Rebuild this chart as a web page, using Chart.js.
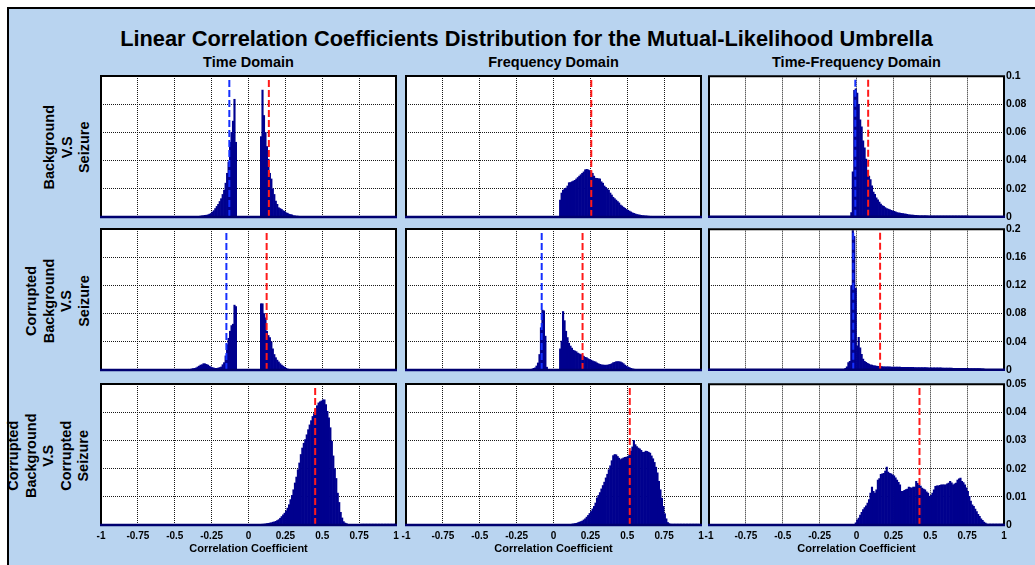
<!DOCTYPE html>
<html>
<head>
<meta charset="utf-8">
<title>Linear Correlation Coefficients Distribution</title>
<script src="https://cdn.jsdelivr.net/npm/chart.js@4/dist/chart.umd.min.js"></script>
<style>
  html, body { margin: 0; padding: 0; background: #fff; }
  #page { position: relative; width: 1035px; height: 565px; overflow: hidden;
          font-family: "Liberation Sans", Arial, sans-serif; font-weight: bold; color: #000; }
  #backdrop { position: absolute; left: 7px; top: 7px; width: 1100px; height: 620px;
              background: #b9d4f0; border-left: 2px solid #000; border-top: 2px solid #000; }
  .txt { position: absolute; white-space: nowrap; text-align: center; line-height: 1; }
  #title { left: 0; width: 1053px; top: 28px; font-size: 21.8px; }
  .coltitle { top: 55px; width: 300px; font-size: 14.5px; }
  .rowlab { width: 200px; font-size: 14.5px; line-height: 17.5px; transform: rotate(-90deg); }
  canvas { position: absolute; }
</style>
</head>
<body>
<div id="page">
  <div id="backdrop"></div>
  <div id="title" class="txt">Linear Correlation Coefficients Distribution for the Mutual-Likelihood Umbrella</div>
</div>
<script>
// ---- labels ----
const domainTitles = ['Time Domain', 'Frequency Domain', 'Time-Frequency Domain'];
const comparisonLabels = [
  ['Background', 'V.S', 'Seizure'],
  ['Corrupted', 'Background', 'V.S', 'Seizure'],
  ['Corrupted', 'Background', 'V.S', 'Corrupted', 'Seizure']
];
const xAxisTitle = 'Correlation Coefficient';

// ---- ticks ----
const xTickValues = [-1, -0.75, -0.5, -0.25, 0, 0.25, 0.5, 0.75, 1];
const xTickLabels = ['-1', '-0.75', '-0.5', '-0.25', '0', '0.25', '0.5', '0.75', '1'];
const yTickValuesRow1 = [0, 0.02, 0.04, 0.06, 0.08, 0.1];
const yTickLabelsRow1 = ['0', '0.02', '0.04', '0.06', '0.08', '0.1'];
const yTickValuesRow2 = [0, 0.04, 0.08, 0.12, 0.16, 0.2];
const yTickLabelsRow2 = ['0', '0.04', '0.08', '0.12', '0.16', '0.2'];
const yTickValuesRow3 = [0, 0.01, 0.02, 0.03, 0.04, 0.05];
const yTickLabelsRow3 = ['0', '0.01', '0.02', '0.03', '0.04', '0.05'];

// ---- histograms: bins of width 0.01, each array starts at the given left bin edge ----
const binWidth = 0.01;

// Background vs Seizure
const timeBgSzStart = -0.33;
const timeBgSz = [0.0007, 0.0008, 0.001, 0.0012, 0.0013, 0.0015, 0.002, 0.0025, 0.0035, 0.0045,
  0.006, 0.0075, 0.009, 0.011, 0.013, 0.016, 0.019, 0.024, 0.031, 0.039,
  0.053, 0.06, 0.068, 0.0835, 0.053,
  0, 0, 0, 0, 0, 0, 0, 0, 0, 0, 0, 0, 0, 0, 0, 0,
  0.057, 0.09, 0.072, 0.06, 0.05, 0.041, 0.031, 0.027, 0.02, 0.016,
  0.0113, 0.009, 0.0066, 0.006, 0.0054, 0.0045, 0.004, 0.003, 0.0027, 0.002,
  0.0018, 0.0015, 0.001, 0.0008, 0.0007, 0.0006, 0.0005, 0.0004];

const freqBgSzStart = 0.04;
const freqBgSz = [0.012, 0.017, 0.019, 0.02, 0.0205, 0.022, 0.0243, 0.0245, 0.025, 0.0255,
  0.026, 0.027, 0.028, 0.029, 0.03, 0.031, 0.032, 0.0335, 0.0338, 0.0335,
  0.033, 0.032, 0.031, 0.029, 0.0275, 0.0274, 0.0272, 0.027, 0.025, 0.024,
  0.022, 0.021, 0.02, 0.019, 0.017, 0.0156, 0.014, 0.013, 0.012, 0.011,
  0.01, 0.0085, 0.0078, 0.0069, 0.0062, 0.0054, 0.0048, 0.0042, 0.0036, 0.003,
  0.0026, 0.0022, 0.0018, 0.0016, 0.0014, 0.0012, 0.001, 0.0009, 0.0008, 0.0007,
  0.0006, 0.0005, 0.0005, 0.0004, 0.0004, 0.0003, 0.0003, 0.0003, 0.0002];

const tfBgSzStart = -0.04;
const tfBgSz = [0.003, 0.032, 0.09, 0.091, 0.088, 0.08, 0.069, 0.064, 0.054, 0.049,
  0.041, 0.033, 0.029, 0.0265, 0.022, 0.0175, 0.016, 0.0135, 0.012, 0.0105,
  0.009, 0.008, 0.0073, 0.0065, 0.0058, 0.0054, 0.005, 0.0045, 0.0042, 0.0038,
  0.0034, 0.003, 0.0028, 0.0026, 0.0024, 0.0022, 0.002, 0.0018, 0.0016, 0.0014,
  0.0013, 0.0012, 0.0011, 0.001, 0.0009, 0.0008,
  0.0007, 0.0007, 0.0007, 0.0006, 0.0006, 0.0006, 0.0005, 0.0005, 0.0005,
  0.0004, 0.0004, 0.0004, 0.0004, 0.0004, 0.0004, 0.0004, 0.0004, 0.0004, 0.0004,
  0.0003, 0.0003, 0.0003, 0.0003, 0.0003, 0.0003, 0.0003, 0.0003, 0.0003, 0.0003,
  0.0003, 0.0003, 0.0003, 0.0003, 0.0003];

// Corrupted Background vs Seizure
const timeCbSzStart = -0.42;
const timeCbSz = [0.0005, 0.001, 0.001, 0.0015, 0.002, 0.0024, 0.003, 0.0043, 0.0055, 0.007,
  0.0075, 0.009, 0.0088, 0.008, 0.007, 0.0055, 0.0043, 0.0035, 0.0028, 0.0024,
  0.0024, 0.0028, 0.0035, 0.0043, 0.0075, 0.0104, 0.02, 0.036, 0.045, 0.055,
  0.063, 0.065, 0.092, 0.09,
  0, 0, 0, 0, 0, 0, 0, 0, 0, 0, 0, 0, 0, 0, 0, 0,
  0.094, 0.094, 0.08, 0.074, 0.055, 0.049, 0.046, 0.04, 0.03, 0.022,
  0.0175, 0.014, 0.0115, 0.009, 0.007, 0.0055, 0.004, 0.0025, 0.0015, 0.001, 0.0005];

const freqCbSzStart = -0.15;
const freqCbSz = [0.0012, 0.0024, 0.003, 0.0057, 0.01, 0.022, 0.06, 0.085, 0.084, 0.048, 0.004,
  0, 0, 0, 0, 0, 0, 0, 0,
  0.03, 0.041, 0.083, 0.07, 0.055, 0.046, 0.038, 0.034, 0.031, 0.028,
  0.027, 0.026, 0.024, 0.023, 0.022, 0.021, 0.0195, 0.018, 0.0175, 0.016,
  0.015, 0.014, 0.013, 0.012, 0.0115, 0.01, 0.009, 0.008, 0.0075, 0.007,
  0.007, 0.0068, 0.007, 0.0075, 0.008, 0.009, 0.0104, 0.011, 0.0118, 0.012,
  0.0118, 0.0115, 0.0104, 0.009, 0.007, 0.0055, 0.0043, 0.0035, 0.0024, 0.0018,
  0.0012, 0.001, 0.0008, 0.0005];

const tfCbSzStart = -0.08;
const tfCbSz = [0.002, 0.004, 0.01, 0.012, 0.12, 0.198, 0.19, 0.116, 0.034, 0.046,
  0.031, 0.022, 0.015, 0.012, 0.0104, 0.009, 0.008, 0.007, 0.0065, 0.006,
  0.0055, 0.005, 0.0047, 0.0045, 0.0044, 0.0043, 0.0042, 0.0041,
  0.004, 0.004, 0.004, 0.0039, 0.0039, 0.0039, 0.0038, 0.0038, 0.0038, 0.0037,
  0.0035, 0.0035, 0.0034, 0.0034, 0.0033, 0.0033, 0.0033, 0.0032, 0.0032, 0.0031,
  0.0031, 0.003, 0.003, 0.003, 0.003, 0.0029, 0.0029, 0.0029, 0.0028, 0.0028,
  0.0028, 0.0027, 0.0027,
  0.0026, 0.0026, 0.0025, 0.0025, 0.0025, 0.0024, 0.0024, 0.0024,
  0.0023, 0.0022, 0.0022, 0.0022, 0.0021, 0.0021, 0.0021, 0.002, 0.002, 0.002,
  0.002, 0.0019, 0.0019, 0.0019, 0.0019,
  0.0017, 0.0017, 0.0016, 0.0016, 0.0016, 0.0015, 0.0015, 0.0015, 0.0014, 0.0014,
  0.0005];

// Corrupted Background vs Corrupted Seizure
const timeCbCsStart = 0.09;
const timeCbCs = [0.0003, 0.0003, 0.0004, 0.0005, 0.0006, 0.0007, 0.0008, 0.001, 0.0011, 0.0013,
  0.0016, 0.0019, 0.0024, 0.003, 0.0036, 0.0042, 0.005, 0.006, 0.0072, 0.009,
  0.0105, 0.0125, 0.0149, 0.017, 0.0196, 0.022, 0.025, 0.0273, 0.029, 0.0303,
  0.032, 0.0338, 0.0355, 0.037, 0.0385, 0.0395, 0.041, 0.0423, 0.0433, 0.0437,
  0.044, 0.0444, 0.0444, 0.0427, 0.0403, 0.038, 0.0345, 0.0297, 0.0245, 0.02,
  0.0165, 0.0113, 0.008, 0.0045, 0.0025, 0.0012, 0.0007, 0.0005,
  0.0001, 0.0001, 0.0001, 0.0001, 0.0001, 0.0001, 0.0001, 0.0001, 0.0001,
  0.0003, 0.0003, 0.0003, 0.0003, 0.0003, 0.0003, 0.0003, 0.0003, 0.0003, 0.0003,
  0.0003, 0.0003, 0.0003, 0.0003, 0.0003, 0.0003, 0.0003, 0.0003, 0.0003, 0.0003,
  0.0003, 0.0003, 0.0003, 0.0003];

const freqCbCsStart = 0.11;
const freqCbCs = [0.0002, 0.0003, 0.0004, 0.0005, 0.0006, 0.0008, 0.001, 0.0012, 0.0014, 0.0018,
  0.0022, 0.0028, 0.0034, 0.0041, 0.0048, 0.0057, 0.0066, 0.0078, 0.0096, 0.0105,
  0.0115, 0.0128, 0.014, 0.0152, 0.0167, 0.018, 0.0196, 0.021, 0.0228, 0.0246,
  0.025, 0.0249, 0.0243, 0.0237, 0.0232, 0.0235, 0.0238, 0.024, 0.0241, 0.0243,
  0.025, 0.0262, 0.0277, 0.03, 0.0285, 0.0278, 0.0273, 0.027, 0.0265, 0.0258,
  0.0258, 0.0262, 0.0261, 0.0258, 0.0255, 0.0245, 0.0235, 0.0222, 0.0205, 0.0185,
  0.0155, 0.0125, 0.0095, 0.0066, 0.004, 0.0022, 0.0009, 0.0005,
  0.0003, 0.0003, 0.0003, 0.0003, 0.0003, 0.0003, 0.0003, 0.0003, 0.0003, 0.0003,
  0.0003, 0.0003, 0.0003, 0.0003, 0.0003, 0.0003, 0.0003, 0.0003, 0.0003, 0.0003];

const tfCbCsStart = -0.01;
const tfCbCs = [0.0008, 0.0018, 0.0025, 0.0035, 0.0045, 0.0055, 0.0062, 0.0068, 0.0078, 0.009,
  0.0113, 0.0135, 0.012, 0.0113, 0.0125, 0.016, 0.0165, 0.018, 0.0182, 0.0184,
  0.0192, 0.0206, 0.0188, 0.0184, 0.0182, 0.0178, 0.0175, 0.0168, 0.016, 0.0152,
  0.0143, 0.012, 0.012, 0.0123, 0.0126, 0.0128, 0.0135, 0.0133, 0.0131, 0.0135,
  0.0135, 0.0155, 0.0148, 0.0143, 0.0138, 0.0131, 0.0128, 0.0125, 0.0118, 0.0113,
  0.0102, 0.0105, 0.0113, 0.0125, 0.0137, 0.0139, 0.0139, 0.0141, 0.0143, 0.0143,
  0.0143, 0.0143, 0.0146, 0.0149, 0.0155, 0.015, 0.0143, 0.0146, 0.0149, 0.016,
  0.0164, 0.0167, 0.0155, 0.0151, 0.0143, 0.0132, 0.012, 0.0102, 0.0085, 0.0072,
  0.0066, 0.0057, 0.0048, 0.0038, 0.0031, 0.0022, 0.0017, 0.001, 0.0007,
  0.0003, 0.0003, 0.0003, 0.0003, 0.0003, 0.0003, 0.0003, 0.0003, 0.0003, 0.0003,
  0.0003, 0.0003];

// mean correlation markers (blue dashed / red dashed), null where not drawn
const blueMeans = [[-0.13, null, -0.008], [-0.15, -0.08, -0.022], [null, null, null]];
const redMeans = [[0.138, 0.256, 0.079], [0.123, 0.197, 0.16], [0.452, 0.517, 0.427]];

// ---- panel grid ----
const histStarts = [
  [timeBgSzStart, freqBgSzStart, tfBgSzStart],
  [timeCbSzStart, freqCbSzStart, tfCbSzStart],
  [timeCbCsStart, freqCbCsStart, tfCbCsStart]
];
const histValues = [
  [timeBgSz, freqBgSz, tfBgSz],
  [timeCbSz, freqCbSz, tfCbSz],
  [timeCbCs, freqCbCs, tfCbCs]
];
const yTickValues = [yTickValuesRow1, yTickValuesRow2, yTickValuesRow3];
const yTickLabels = [yTickLabelsRow1, yTickLabelsRow2, yTickLabelsRow3];

// ---- geometry ----
const colLeft = [101, 406, 709];
const rowTop = [76, 229, 384];
const plotW = 295, plotH = 141;
const FONT = '"Liberation Sans", Arial, sans-serif';
const BAR_COLOR = '#00008e';
const GRID_COLOR = 'rgba(0,0,0,0.9)';

const page = document.getElementById('page');

// column headings
domainTitles.forEach((t, c) => {
  const d = document.createElement('div');
  d.className = 'txt coltitle';
  d.textContent = t;
  d.style.left = (colLeft[c] + plotW / 2 - 150) + 'px';
  page.appendChild(d);
});

// rotated row headings
comparisonLabels.forEach((lines, r) => {
  const d = document.createElement('div');
  d.className = 'txt rowlab';
  d.innerHTML = lines.join('<br>');
  const lh = 17.5, h = lines.length * lh;
  const cx = 92.75 - h / 2;
  const cy = rowTop[r] + plotH / 2 + 1;
  d.style.height = h + 'px';
  d.style.left = (cx - 100) + 'px';
  d.style.top = (cy - h / 2) + 'px';
  page.appendChild(d);
});

// white plot background + box frame
const framePlugin = {
  id: 'frame',
  beforeDraw(chart) {
    const { ctx, chartArea: a } = chart;
    ctx.save();
    ctx.fillStyle = '#fff';
    ctx.fillRect(a.left, a.top, a.right - a.left, a.bottom - a.top);
    ctx.restore();
  },
  afterDraw(chart) {
    const { ctx, chartArea: a } = chart;
    ctx.save();
    ctx.lineWidth = 2;
    ctx.strokeStyle = '#000';
    ctx.beginPath();
    ctx.moveTo(a.left, a.bottom);
    ctx.lineTo(a.left, a.top);
    ctx.lineTo(a.right, a.top);
    ctx.lineTo(a.right, a.bottom);
    ctx.stroke();
    ctx.strokeStyle = '#000070';
    ctx.lineWidth = 2.5;
    ctx.beginPath();
    ctx.moveTo(a.left - 1, a.bottom);
    ctx.lineTo(a.right + 1, a.bottom);
    ctx.stroke();
    ctx.restore();
  }
};

function meanLine(x, ymax, color) {
  return {
    type: 'line',
    data: [{ x: x, y: 0 }, { x: x, y: ymax }],
    borderColor: color,
    borderWidth: 2,
    borderDash: [7, 3],
    pointRadius: 0,
    order: 1
  };
}

function makePanel(r, c) {
  const ticksY = yTickValues[r];
  const labelsY = yTickLabels[r];
  const ymax = ticksY[ticksY.length - 1];
  const padL = 15, padT = 8;
  const padR = c === 2 ? 42 : 15;
  const padB = r === 2 ? 36 : 8;
  const yAxisW = c === 2 ? 34 : 0;
  const xAxisH = r === 2 ? 31 : 0;
  const w = plotW + padL + padR, h = plotH + padT + padB;

  const cv = document.createElement('canvas');
  cv.width = w; cv.height = h;
  cv.style.width = w + 'px'; cv.style.height = h + 'px';
  cv.style.left = (colLeft[c] - padL) + 'px';
  cv.style.top = (rowTop[r] - padT) + 'px';
  page.appendChild(cv);

  const start = histStarts[r][c];
  const bars = histValues[r][c].map((v, i) => ({ x: start + binWidth * (i + 0.5), y: v }));
  const datasets = [{
    type: 'bar', data: bars, backgroundColor: BAR_COLOR, borderWidth: 0,
    barPercentage: 1, categoryPercentage: 1, order: 2
  }];
  if (blueMeans[r][c] !== null) datasets.push(meanLine(blueMeans[r][c], ymax, '#1530ff'));
  if (redMeans[r][c] !== null) datasets.push(meanLine(redMeans[r][c], ymax, '#ff1a1a'));

  new Chart(cv, {
    type: 'bar',
    data: { datasets },
    options: {
      responsive: false,
      animation: false,
      devicePixelRatio: 1,
      events: [],
      layout: { padding: { left: padL, top: padT, right: padR - yAxisW, bottom: padB - xAxisH } },
      plugins: { legend: { display: false }, tooltip: { enabled: false } },
      scales: {
        x: {
          type: 'linear', min: -1, max: 1, offset: false, position: 'bottom',
          afterBuildTicks: s => { s.ticks = xTickValues.map(v => ({ value: v })); },
          afterFit: s => { s.height = xAxisH; },
          grid: { color: GRID_COLOR, lineWidth: 1, drawTicks: false, offset: false },
          border: { display: false, dash: [1, 1] },
          ticks: {
            display: r === 2, padding: 5, color: '#000', maxRotation: 0, autoSkip: false,
            font: { family: FONT, size: 10, weight: 'bold' },
            callback: (v, i) => xTickLabels[i]
          },
          title: {
            display: r === 2, text: xAxisTitle, color: '#000', padding: 0,
            font: { family: FONT, size: 11, weight: 'bold' }
          }
        },
        y: {
          type: 'linear', min: 0, max: ymax, position: c === 2 ? 'right' : 'left',
          afterBuildTicks: s => { s.ticks = ticksY.map(v => ({ value: v })); },
          afterFit: s => { s.width = yAxisW; },
          grid: { color: GRID_COLOR, lineWidth: 1, drawTicks: false },
          border: { display: false, dash: [1, 1] },
          ticks: {
            display: c === 2, padding: 2, color: '#000', autoSkip: false,
            font: { family: FONT, size: 10.5, weight: 'bold' },
            callback: (v, i) => labelsY[i]
          }
        }
      }
    },
    plugins: [framePlugin]
  });
}

for (let r = 0; r < 3; r++) {
  for (let c = 0; c < 3; c++) makePanel(r, c);
}
</script>
</body>
</html>
